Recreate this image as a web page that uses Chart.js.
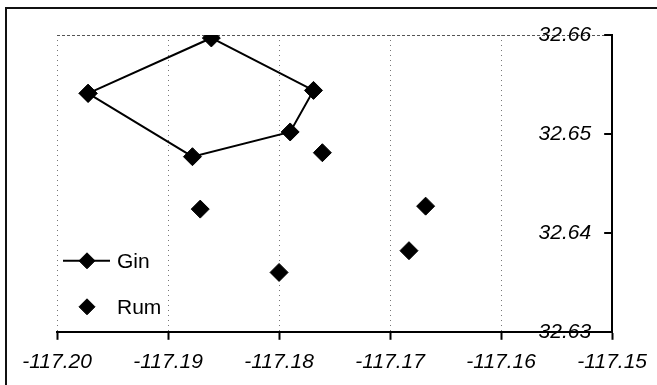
<!DOCTYPE html>
<html>
<head>
<meta charset="utf-8">
<script src="https://cdn.jsdelivr.net/npm/chart.js@4/dist/chart.umd.min.js"></script>
<style>
  html, body { margin: 0; padding: 0; background: #fff; overflow: hidden; }
  #wrap { position: relative; width: 657px; height: 385px; }
  #c { position: absolute; left: 0; top: 0; }
  #frame { position: absolute; left: 5px; top: 7px; width: 700px; height: 400px;
           border-left: 2px solid #111; border-top: 2px solid #111; pointer-events: none; }
</style>
</head>
<body>
<div id="wrap">
  <canvas id="c" width="657" height="385"></canvas>
  <div id="frame"></div>
</div>
<script>
// ---- data ----
const seriesNames = ['Gin', 'Rum'];
// Gin: closed polygon (first point repeated to close the ring)
const ginX = [-117.1972, -117.1861, -117.1769, -117.1790, -117.1878, -117.1972];
const ginY = [32.6541, 32.6597, 32.6544, 32.6502, 32.6477, 32.6541];
const rumX = [-117.1761, -117.1871, -117.1800, -117.1683, -117.1668];
const rumY = [32.6481, 32.6424, 32.6360, 32.6382, 32.6427];
const xTickLabels = ['-117.20', '-117.19', '-117.18', '-117.17', '-117.16', '-117.15'];
const yTickLabels = ['32.63', '32.64', '32.65', '32.66'];

const toPts = (xs, ys) => xs.map((x, i) => ({ x: x, y: ys[i] }));

const FONT = "'Liberation Sans', Arial, sans-serif";

function diamond(ctx, x, y, r) {
  ctx.beginPath();
  ctx.moveTo(x - r, y);
  ctx.lineTo(x, y - r);
  ctx.lineTo(x + r, y);
  ctx.lineTo(x, y + r);
  ctx.closePath();
  ctx.fill();
  ctx.stroke();
}

// inward tick marks on the right axis + legend inside plot
const extras = {
  id: 'extras',
  afterDraw(chart) {
    const ctx = chart.ctx;
    const ys = chart.scales.y;
    const area = chart.chartArea;
    ctx.save();
    ctx.strokeStyle = '#000';
    ctx.lineWidth = 2;
    ys.ticks.forEach(t => {
      const py = Math.round(ys.getPixelForValue(t.value));
      ctx.beginPath();
      ctx.moveTo(area.right, py);
      ctx.lineTo(area.right - 8, py);
      ctx.stroke();
    });
    // legend
    const lx = area.left;
    const gy = area.bottom - 71;
    const ry = area.bottom - 25;
    ctx.fillStyle = '#000';
    ctx.strokeStyle = '#000';
    ctx.lineWidth = 2;
    ctx.beginPath();
    ctx.moveTo(lx + 6, gy);
    ctx.lineTo(lx + 53, gy);
    ctx.stroke();
    ctx.lineWidth = 1;
    diamond(ctx, lx + 30, gy, 8);
    diamond(ctx, lx + 30, ry, 8);
    ctx.font = '21px ' + FONT;
    ctx.textAlign = 'left';
    ctx.textBaseline = 'middle';
    ctx.fillText(seriesNames[0], lx + 60, gy + 1);
    ctx.fillText(seriesNames[1], lx + 60, ry + 1);
    ctx.restore();
  }
};

new Chart(document.getElementById('c'), {
  type: 'scatter',
  data: {
    datasets: [
      {
        label: seriesNames[0],
        data: toPts(ginX, ginY),
        showLine: true,
        borderColor: '#000',
        borderWidth: 2,
        backgroundColor: '#000',
        pointStyle: 'rectRot',
        pointRadius: 9,
        pointBorderWidth: 1,
        pointBackgroundColor: '#000',
        pointBorderColor: '#000',
        tension: 0
      },
      {
        label: seriesNames[1],
        data: toPts(rumX, rumY),
        showLine: false,
        backgroundColor: '#000',
        borderColor: '#000',
        pointStyle: 'rectRot',
        pointRadius: 9,
        pointBorderWidth: 1,
        pointBackgroundColor: '#000',
        pointBorderColor: '#000'
      }
    ]
  },
  options: {
    responsive: false,
    animation: false,
    devicePixelRatio: 1,
    layout: { padding: { left: 57, right: 44, top: 35, bottom: 0 } },
    plugins: { legend: { display: false }, tooltip: { enabled: false } },
    scales: {
      x: {
        type: 'linear',
        position: 'bottom',
        min: -117.20,
        max: -117.15,
        ticks: {
          stepSize: 0.01,
          padding: 10,
          color: '#000',
          font: { family: FONT, size: 21, style: 'italic' },
          callback: (v, i) => xTickLabels[i]
        },
        grid: {
          color: (c) => (c.index === xTickLabels.length - 1 ? 'rgba(0,0,0,0)' : '#777'),
          lineWidth: 1,
          drawTicks: true,
          tickLength: 8,
          tickColor: '#000',
          tickWidth: 2,
          tickBorderDash: []
        },
        border: { display: true, color: '#000', width: 2, dash: [1, 4] }
      },
      y: {
        type: 'linear',
        position: 'right',
        min: 32.63,
        max: 32.66,
        afterFit: (scale) => { scale.width = 0; },
        ticks: {
          stepSize: 0.01,
          mirror: true,
          padding: -21,
          color: '#000',
          font: { family: FONT, size: 21, style: 'italic' },
          callback: (v, i) => yTickLabels[i]
        },
        grid: {
          color: (c) => (c.index === yTickLabels.length - 1 ? '#555' : 'rgba(0,0,0,0)'),
          lineWidth: 1,
          drawTicks: false
        },
        border: { display: true, color: '#000', width: 2, dash: [3, 2] }
      }
    }
  },
  plugins: [extras]
});
</script>
</body>
</html>
